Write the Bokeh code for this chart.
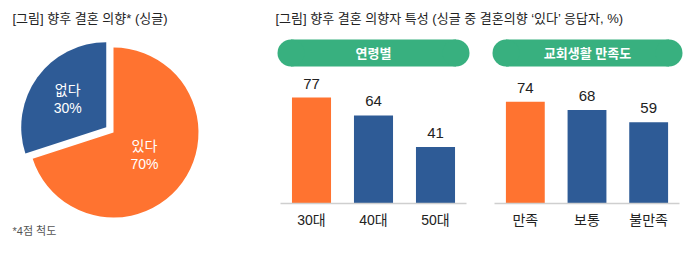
import math
from bokeh.plotting import figure
from bokeh.layouts import row, column
from bokeh.models import Range1d, FactorRange, ColumnDataSource
from bokeh.core.properties import value
from bokeh.embed import file_html
from bokeh.resources import INLINE

# ---- data ----
pie_labels = ["있다", "없다"]
pie_values = [70, 30]
age_cats = ["30대", "40대", "50대"]
age_vals = [77, 64, 41]
sat_cats = ["만족", "보통", "불만족"]
sat_vals = [74, 68, 59]

left_title = "[그림] 향후 결혼 의향* (싱글)"
right_title = "[그림] 향후 결혼 의향자 특성 (싱글 중 결혼의향 ‘있다’ 응답자, %)"
footnote = "*4점 척도"
panel_titles = ["연령별", "교회생활 만족도"]

ORANGE = "#FF7330"
BLUE = "#2E5B96"
GREEN = "#38B07F"
TXT = "#222222"
FONT_NAME = "Liberation Sans, Noto Sans CJK KR"
FONT = value(FONT_NAME)


def blank(width, height, xr, yr):
    p = figure(width=width, height=height, x_range=xr, y_range=yr,
               output_backend="svg", toolbar_location=None,
               x_axis_location=None, y_axis_location=None,
               min_border=0, outline_line_color=None)
    p.grid.visible = False
    return p


# ---- left: pie ----
left = blank(260, 249, Range1d(0, 260), Range1d(0, 249))
cx, cy, R = 113, 117, 85
explode = [0, 9]
label_r = [0.45, 0.56]
pie_colors = [ORANGE, BLUE]
total = sum(pie_values)
top = math.pi / 2
for i, v in enumerate(pie_values):
    sweep = 2 * math.pi * v / total
    if i == 0:
        a0, a1 = top - sweep, top
        mid = top - sweep / 2
    else:
        a0, a1 = top, top + sweep
        mid = top + sweep / 2
    ox = cx + explode[i] * math.cos(mid)
    oy = cy + explode[i] * math.sin(mid)
    left.wedge(x=[ox], y=[oy], radius=R, start_angle=[a0], end_angle=[a1],
               fill_color=pie_colors[i], line_color=None)
    lx = ox + label_r[i] * R * math.cos(mid)
    ly = oy + label_r[i] * R * math.sin(mid)
    left.text(x=[lx], y=[ly], text=[pie_labels[i]], text_font=FONT,
              text_font_size="14px", text_color="white", text_align="center",
              text_baseline="middle", y_offset=-9)
    left.text(x=[lx], y=[ly], text=[f"{v}%"], text_font=FONT,
              text_font_size="14px", text_color="white", text_align="center",
              text_baseline="middle", y_offset=9)

left.text(x=[12], y=[231], text=[left_title], text_font=FONT,
          text_font_size="13px", text_color=TXT, text_baseline="middle")
left.text(x=[12], y=[19], text=[footnote], text_font=FONT,
          text_font_size="11px", text_color="#555555", text_baseline="middle")

# ---- header (right title + pills) ----
header = blank(430, 70, Range1d(0, 430), Range1d(0, 70))
header.text(x=[15], y=[52], text=[right_title], text_font=FONT,
            text_font_size="13px", text_color=TXT, text_baseline="middle")
pills = [(17, 209), (232, 422)]
ph, pcy = 27, 17.5
for (x0, x1), t in zip(pills, panel_titles):
    r = ph / 2
    header.rect(x=[(x0 + x1) / 2], y=[pcy], width=(x1 - x0) - 2 * r, height=ph,
                fill_color=GREEN, line_color=None)
    header.circle(x=[x0 + r, x1 - r], y=[pcy, pcy], radius=r,
                  fill_color=GREEN, line_color=None)
    header.text(x=[(x0 + x1) / 2], y=[pcy], text=[t], text_font=FONT,
                text_font_size="13px", text_font_style="bold",
                text_color="white", text_align="center", text_baseline="middle")


# ---- bar panels ----
def bar_panel(cats, vals, width, bl, br):
    p = figure(width=width, height=179, x_range=FactorRange(*cats),
               y_range=Range1d(0, 96.7), output_backend="svg",
               toolbar_location=None, y_axis_location=None,
               min_border_left=bl, min_border_right=br,
               min_border_top=0, min_border_bottom=46,
               outline_line_color=None)
    p.grid.visible = False
    colors = [ORANGE] + [BLUE] * (len(cats) - 1)
    src = ColumnDataSource(dict(x=cats, top=vals, c=colors,
                                lab=[str(v) for v in vals]))
    p.vbar(x="x", top="top", width=0.63, fill_color="c", line_color=None,
           source=src)
    p.text(x="x", y="top", text="lab", source=src, text_font=FONT,
           text_font_size="15px", text_color=TXT, text_align="center",
           text_baseline="middle", y_offset=-14)
    ax = p.xaxis[0]
    ax.axis_line_color = "#cfcfcf"
    ax.axis_line_width = 1.5
    ax.major_tick_line_color = None
    ax.minor_tick_line_color = None
    ax.major_label_text_font = FONT_NAME
    ax.major_label_text_font_size = "14px"
    ax.major_label_text_color = TXT
    ax.major_label_standoff = 2
    return p


bar1 = bar_panel(age_cats, age_vals, 220, 20, 14)
bar2 = bar_panel(sat_cats, sat_vals, 210, 14, 11)

layout = row(left, column(header, row(bar1, bar2, spacing=0), spacing=0),
             spacing=0)

open("out.html", "w").write(file_html(layout, INLINE))
